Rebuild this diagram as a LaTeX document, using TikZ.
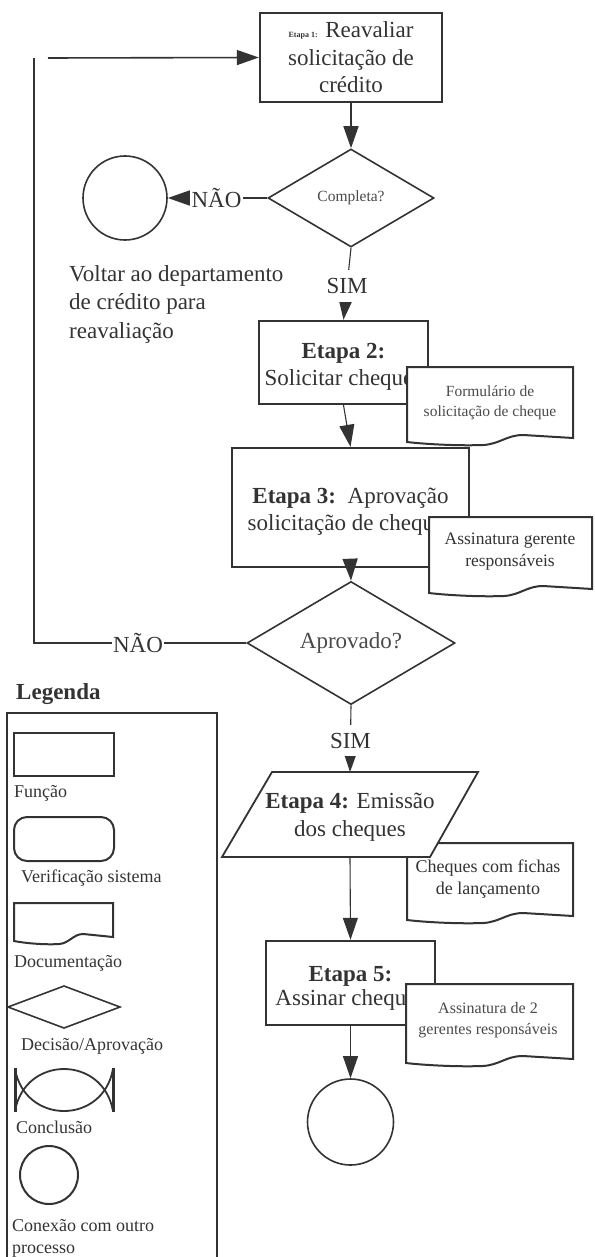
\documentclass[tikz,border=0pt]{standalone}
\usepackage{fontspec}
\setmainfont{Liberation Serif}
\usetikzlibrary{shapes.geometric,arrows.meta}
\definecolor{ink}{HTML}{333333}
\definecolor{softink}{HTML}{4A4A4A}

% document symbol: #1 left x, #2 top y, #3 right x, #4 bottom y at the left edge
\newcommand{\docshape}[4]{%
  \draw[docline] (#1,#2) -- (#3,#2) -- (#3,#4-4)
    -- ({#1+0.7*(#3-#1)},#4-7)
    .. controls ({#1+0.6*(#3-#1)},#4-7) and ({#1+0.56*(#3-#1)},#4+2) .. ({#1+0.46*(#3-#1)},#4+3)
    .. controls ({#1+0.3*(#3-#1)},#4+4) and ({#1+0.1*(#3-#1)},#4+2) .. (#1,#4) -- cycle;}

\begin{document}
\begin{tikzpicture}[x=1pt,y=-1pt,
  txt/.style={font=\fontsize{23}{27.5}\selectfont, text=ink, align=center},
  stepbox/.style={draw=ink, line width=2.4pt, fill=white, inner sep=0pt, txt},
  decision/.style={diamond, draw=ink, line width=1.6pt, fill=white, inner sep=0pt},
  connector/.style={circle, draw=ink, line width=1.6pt, fill=white, inner sep=0pt},
  docline/.style={draw=ink, line width=2pt, fill=white},
  doctxt/.style={text=softink, align=center, inner sep=0pt},
  conn/.style={draw=ink, line width=1.6pt},
  thinconn/.style={draw=ink, line width=1.1pt},
  arr/.style={-{Triangle[length=22pt,width=15pt]}},
  lbl/.style={fill=white, inner xsep=1.5pt, inner ysep=1pt, txt},
  simlbl/.style={fill=white, inner xsep=1pt, inner ysep=8pt, txt},
  legtxt/.style={anchor=base west, inner sep=0pt, text=ink, font=\fontsize{18}{22}\selectfont},
  legshape/.style={draw=ink, line width=2pt}
]
\useasboundingbox (0,0) rectangle (594,1257);

% ---------- main flow ----------
\node[stepbox, minimum width=182pt, minimum height=89pt] (b1) at (351,57.5)
  {{\fontsize{8}{8}\selectfont\bfseries Etapa 1:} Reavaliar\\solicitação de\\crédito};

\node[decision, minimum width=166pt, minimum height=98pt,
      font=\fontsize{15.5}{18}\selectfont, text=softink] (d1) at (351,198) {Completa?};

\node[connector, minimum size=84pt] (c1) at (125,198) {};

\node[anchor=north west, inner sep=0pt, align=left, text=ink,
      font=\fontsize{23}{28.5}\selectfont] (back) at (69,265)
  {Voltar ao departamento\\de crédito para\\reavaliação};

\node[stepbox, minimum width=169pt, minimum height=83pt] (b2) at (343.5,362.5)
  {\rule{0pt}{24pt}\textbf{Etapa 2:}\\Solicitar cheques};
\docshape{407}{367}{573}{442}
\node[doctxt, font=\fontsize{15.5}{20}\selectfont] (doc1) at (490,403)
  {Formulário de\\solicitação de cheque};

\node[stepbox, minimum width=237pt, minimum height=119pt] (b3) at (350.5,507.5)
  {\rule{0pt}{24pt}\textbf{Etapa 3:}\ \ Aprovação\\solicitação de cheques};
\docshape{429}{517}{592}{593}
\node[doctxt, text=ink, font=\fontsize{17.5}{22}\selectfont] (doc2) at (510,552)
  {Assinatura gerente\\responsáveis};

\node[decision, minimum width=208pt, minimum height=88pt, txt, text=softink] (d2) at (351,643) {Aprovado?};

\docshape{407}{843}{573}{920}
\node[doctxt, text=ink, font=\fontsize{18}{22}\selectfont] (doc3) at (488,879)
  {Cheques com fichas\\de lançamento};

% step 4: data parallelogram
\draw[draw=ink, line width=1.8pt, fill=white] (272,772) -- (478,772) -- (430,857) -- (222,857) -- cycle;
\draw[draw=ink, line width=2.8pt] (272,772) -- (478,772);
\node[txt, inner sep=0pt] (b4) at (350,817) {\textbf{Etapa 4:} Emissão\\dos cheques};
\coordinate (b4n) at (350,772);
\coordinate (b4s) at (350,857);

\node[stepbox, minimum width=169pt, minimum height=84pt,
      font=\fontsize{23}{24}\selectfont] (b5) at (350.5,983)
  {\rule{0pt}{26pt}\textbf{Etapa 5:}\\Assinar cheques};
\docshape{406}{984}{573}{1063}
\node[doctxt, font=\fontsize{16}{21}\selectfont] (doc4) at (488,1020)
  {Assinatura de 2\\gerentes responsáveis};

\node[connector, minimum size=86pt] (c2) at (350.5,1122) {};

% ---------- connectors ----------
\coordinate (loopTop) at (34,58);
\coordinate (loopIn) at (48,58);
\coordinate (loopCorner) at (34,643);

\draw[conn, arr] (loopIn) -- (b1.west);
\draw[conn, arr] (b1.south) -- (d1.north);
\draw[conn, arr] (d1.west) -- node[lbl, pos=0.51] {NÃO} (c1.east);
\draw[thinconn, arr] (d1.south) -- node[simlbl, pos=0.53] {SIM} (b2.north);
\draw[thinconn, arr] (b2.south) -- (b3.north);
\draw[conn, arr] (b3.south) -- (d2.north);
\draw[conn] (d2.west) -- node[lbl, pos=0.51] {NÃO} (loopCorner) -- (loopTop);
\draw[thinconn, arr] (d2.south) -- node[simlbl, pos=0.53] {SIM} (b4n);
\draw[thinconn, arr] (b4s) -- (b5.north);
\draw[thinconn, arr] (b5.south) -- (c2.north);

% ---------- legend ----------
\node[anchor=base west, inner sep=0pt, text=ink, font=\fontsize{23}{27}\selectfont\bfseries] (legtitle) at (16,699) {Legenda};
\draw[draw=ink, line width=1.6pt] (7,1258) -- (7,713) -- (217,713) -- (217,1258);

\draw[legshape, line width=2.4pt] (14,733) rectangle (114,776);
\node[legtxt] (lf) at (14,797) {Função};

\draw[legshape, rounded corners=13pt] (14,817) rectangle (114,861);
\node[legtxt] (lv) at (21,882) {Verificação sistema};

\docshape{14}{903}{113}{941}
\node[legtxt] (ld) at (14,967) {Documentação};

\draw[legshape, line width=1.6pt] (8,1007) -- (64,986) -- (120,1007) -- (64,1028) -- cycle;
\node[legtxt] (la) at (21,1050) {Decisão/Aprovação};

\draw[legshape, line width=3pt] (15,1068) -- (15,1112) (113,1068) -- (113,1112);
\draw[legshape, line width=1.8pt] (15,1111) .. controls (25,1055) and (103,1055) .. (113,1111);
\draw[legshape, line width=1.8pt] (15,1069) .. controls (25,1125) and (103,1125) .. (113,1069);
\node[legtxt] (lc) at (16,1133) {Conclusão};

\draw[legshape] (49,1175) circle[radius=29pt];
\node[legtxt] (lx) at (12,1231) {Conexão com outro};
\node[legtxt] (lp) at (12,1253) {processo};
\end{tikzpicture}
\end{document}
